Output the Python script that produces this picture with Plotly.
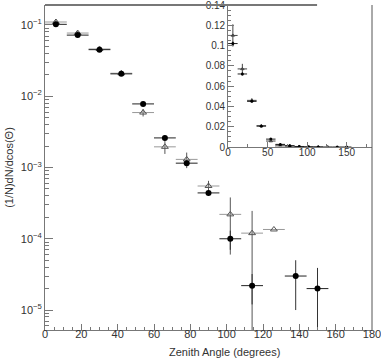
import numpy as np
import plotly.graph_objects as go

# zenith angle bins (centre, half width 6 deg)
angle_data = [6, 18, 30, 42, 54, 66, 78, 90, 102, 114, 138, 150]
data_vals = [0.102, 0.072, 0.045, 0.0206, 0.0078, 0.0026, 0.00115, 0.00044,
             0.0001, 0.000022, 0.00003, 0.00002]
data_err = [0.002, 0.0015, 0.001, 0.0006, 0.0003, 0.0002, 0.0001, 0.00004,
            0.00003, 0.00001, 0.00002, 0.000019]

angle_mc = [6, 18, 30, 42, 54, 66, 78, 90, 102, 114, 126]
mc_vals = [0.11, 0.077, 0.046, 0.021, 0.0059, 0.00195, 0.0013, 0.00055,
           0.00022, 0.00012, 0.000135]
mc_err = [0.011, 0.005, 0.002, 0.001, 0.0007, 0.0004, 0.00032, 0.0001,
          0.00016, 0.000126, 0]

# grey band in the inset
band_x = [66, 78, 90]
band_vals = [0.003, 0.0016, 0.0008]

half_width = 6
font = "Liberation Sans, Arial, sans-serif"
grey = "#777777"

fig = go.Figure()

# main log plot
fig.add_trace(go.Scatter(
    x=angle_mc, y=mc_vals, mode="markers",
    marker=dict(symbol="triangle-up-open", size=6, color="#555555", line_width=1),
    error_x=dict(type="constant", value=half_width, color="#999999", thickness=1, width=0),
    error_y=dict(type="data", array=mc_err, color="#555555", thickness=1, width=0),
    showlegend=False,
))
fig.add_trace(go.Scatter(
    x=angle_data, y=data_vals, mode="markers",
    marker=dict(symbol="circle", size=6, color="black"),
    error_x=dict(type="constant", value=half_width, color="#222222", thickness=1, width=0),
    error_y=dict(type="data", array=data_err, color="#333333", thickness=1, width=0),
    showlegend=False,
))

# inset linear plot
fig.add_trace(go.Bar(
    x=band_x, y=band_vals, width=12, marker_color="#bbbbbb", marker_line_width=0,
    xaxis="x2", yaxis="y2", showlegend=False,
))
fig.add_trace(go.Scatter(
    x=angle_mc, y=mc_vals, mode="markers",
    marker=dict(symbol="triangle-up-open", size=3, color="#444444", line_width=1),
    error_x=dict(type="constant", value=half_width, color="#444444", thickness=1, width=0),
    error_y=dict(type="data", array=mc_err, color="#444444", thickness=1, width=0),
    xaxis="x2", yaxis="y2", showlegend=False,
))
fig.add_trace(go.Scatter(
    x=angle_data, y=data_vals, mode="markers",
    marker=dict(symbol="circle", size=3, color="black"),
    error_x=dict(type="constant", value=half_width, color="#222222", thickness=1, width=0),
    error_y=dict(type="data", array=data_err, color="#222222", thickness=1, width=0),
    xaxis="x2", yaxis="y2", showlegend=False,
))

# log tick positions
major_y = [1e-5, 1e-4, 1e-3, 1e-2, 1e-1]
major_txt = ["10<sup>−5</sup>", "10<sup>−4</sup>", "10<sup>−3</sup>",
             "10<sup>−2</sup>", "10<sup>−1</sup>"]
minor_y = [m * d for d in [1e-6, 1e-5, 1e-4, 1e-3, 1e-2, 1e-1] for m in range(2, 10)]

tickfont = dict(family=font, size=11, color="#333333")

fig.update_layout(
    width=381, height=360,
    margin=dict(l=45, r=9, t=5, b=30, autoexpand=False),
    paper_bgcolor="white", plot_bgcolor="white",
    font=dict(family=font, color="#333333"),
    xaxis=dict(
        range=[0, 180], tickmode="array", tickvals=list(range(0, 181, 20)),
        ticks="inside", ticklen=6, tickcolor=grey, showline=True, linecolor=grey,
        linewidth=1, showgrid=False, zeroline=False, tickfont=tickfont,
        ticklabeloverflow="allow", ticklabelstandoff=-6, automargin=False,
        minor=dict(tickvals=list(range(0, 181, 5)), ticks="inside", ticklen=3,
                   tickcolor=grey, showgrid=False),
    ),
    yaxis=dict(
        type="log", range=[-5.28, -0.72], tickmode="array", tickvals=major_y,
        ticktext=major_txt, ticks="inside", ticklen=8, tickcolor=grey,
        showline=True, linecolor=grey, linewidth=1, showgrid=False,
        zeroline=False, tickfont=tickfont, ticklabeloverflow="allow", automargin=False,
        title=dict(text="(1/N)dN/dcos(Θ)", font=dict(family=font, size=11, color="#333333"),
                   standoff=4),
        minor=dict(tickvals=minor_y, ticks="inside", ticklen=4, tickcolor=grey,
                   showgrid=False),
    ),
    xaxis2=dict(
        domain=[0.56, 1.0], anchor="y2", range=[0, 182],
        tickmode="array", tickvals=[0, 50, 100, 150], ticks="inside", ticklen=5,
        tickcolor=grey, showline=True, linecolor=grey, showgrid=False,
        zeroline=False, tickfont=dict(family=font, size=10, color="#333333"),
        ticklabeloverflow="allow", ticklabelstandoff=-4, automargin=False,
        minor=dict(tickvals=[25, 75, 125, 175], ticks="inside", ticklen=3,
                   tickcolor=grey, showgrid=False),
    ),
    yaxis2=dict(
        domain=[0.563, 1.0], anchor="x2", range=[0, 0.14],
        tickmode="array", tickvals=[0, 0.02, 0.04, 0.06, 0.08, 0.1, 0.12, 0.14],
        ticktext=["0", "0.02", "0.04", "0.06", "0.08", "0.1", "0.12", "0.14"],
        ticks="inside", ticklen=6, tickcolor=grey, showline=True, linecolor=grey,
        showgrid=False, zeroline=False, ticklabeloverflow="allow", automargin=False,
        tickfont=dict(family=font, size=10, color="#333333"),
        minor=dict(dtick=0.005, ticks="inside", ticklen=3, tickcolor=grey,
                   showgrid=False),
    ),
    bargap=0,
)

fig.add_annotation(
    text="Zenith Angle (degrees)", xref="paper", yref="paper", x=0.55, y=0,
    yshift=-22, xanchor="center", yanchor="middle", showarrow=False,
    font=dict(family=font, size=11, color="#333333"),
)

# frame: top edge stops short of the inset, right edge full height
fig.add_shape(type="line", xref="paper", yref="paper", x0=0, x1=0.832, y0=1, y1=1,
              line=dict(color=grey, width=2))
fig.add_shape(type="line", xref="paper", yref="paper", x0=1, x1=1, y0=0, y1=1,
              line=dict(color="#555555", width=1))

# page body has an 8px default margin, drop it so the figure sits at 0,0
fig.write_html("out.html", config={"displayModeBar": False},
               post_script="document.body.style.margin='0';")
